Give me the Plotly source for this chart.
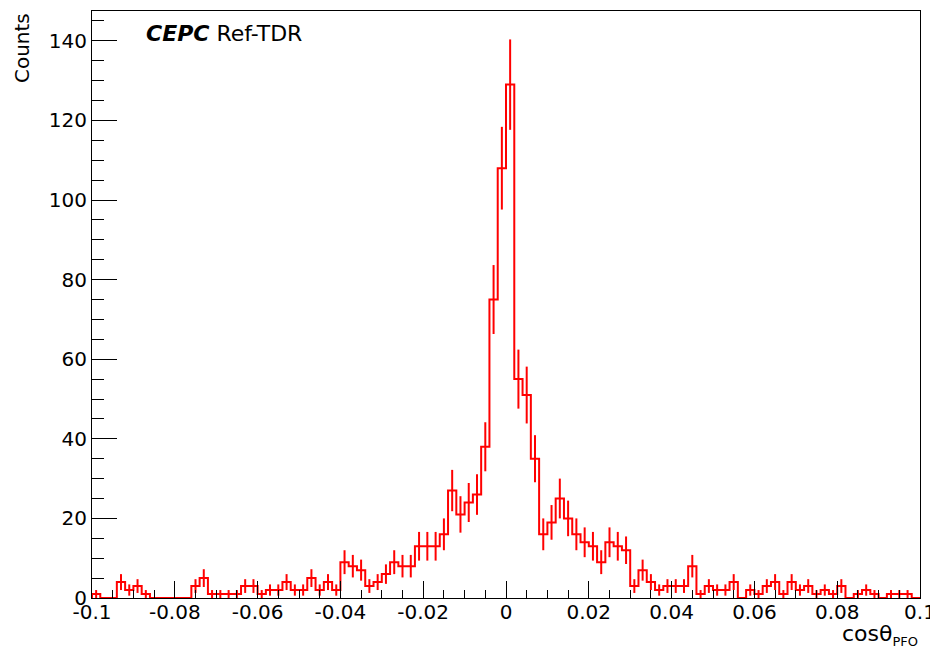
import numpy as np
import plotly.graph_objects as go

# Histogram: 100 bins of cos(theta_PFO) from -0.1 to 0.1
x_min = -0.1
x_max = 0.1
n_bins = 100
counts = [1, 0, 0, 4, 2, 3, 1, 0, 0, 0,
          0, 0, 3, 5, 1, 1, 1, 1, 3, 3,
          1, 2, 2, 4, 2, 2, 5, 2, 4, 2,
          9, 8, 7, 3, 4, 6, 9, 8, 8, 13,
          13, 13, 16, 27, 21, 24, 26, 38, 75, 108,
          129, 55, 51, 35, 16, 19, 25, 20, 16, 14,
          13, 9, 14, 13, 12, 3, 7, 4, 2, 3,
          3, 3, 8, 1, 3, 2, 2, 4, 0, 2,
          1, 3, 4, 1, 4, 2, 3, 1, 2, 1,
          3, 0, 1, 2, 1, 0, 1, 1, 1, 0]
x_tick_vals = [-0.1, -0.08, -0.06, -0.04, -0.02, 0, 0.02, 0.04, 0.06, 0.08, 0.1]
x_tick_text = ["-0.1", "-0.08", "-0.06", "-0.04", "-0.02", "0", "0.02", "0.04", "0.06", "0.08", "0.1"]
y_tick_vals = [0, 20, 40, 60, 80, 100, 120, 140]

edges = np.linspace(x_min, x_max, n_bins + 1)
centers = 0.5 * (edges[:-1] + edges[1:])
c = np.array(counts, dtype=float)
err = np.sqrt(c)

step_x = np.concatenate([[edges[0]], edges, [edges[-1]]])
step_y = np.concatenate([[0], c, [c[-1]], [0]])

FONT = "DejaVu Sans, Liberation Sans, Arial, sans-serif"
RED = "#ff0000"

fig = go.Figure()
fig.add_trace(go.Scatter(x=step_x, y=step_y, mode="lines", line=dict(color=RED, width=2, shape="hv"),
                         hoverinfo="skip", showlegend=False))
mask = c > 0
fig.add_trace(go.Scatter(x=centers[mask], y=c[mask], mode="markers", marker=dict(size=1, color=RED),
                         error_y=dict(type="data", array=err[mask], symmetric=True, color=RED,
                                      thickness=2, width=0),
                         showlegend=False))

# page body has an 8px margin; margins compensate for it
fig.update_layout(
    width=938, height=653,
    margin=dict(l=84, r=26, t=3, b=63, autoexpand=False),
    paper_bgcolor="white", plot_bgcolor="white",
    font=dict(family=FONT, size=20, color="black"),
    showlegend=False,
)
fig.update_xaxes(range=[x_min, x_max], tickvals=x_tick_vals, ticktext=x_tick_text,
                 ticks="inside", ticklen=17, tickwidth=1, tickcolor="black",
                 minor=dict(ticks="inside", ticklen=8, dtick=0.005, tick0=0, tickcolor="black", tickwidth=1, showgrid=False),
                 showline=True, linecolor="black", linewidth=1, mirror=True,
                 showgrid=False, zeroline=False, tickfont=dict(size=20), automargin=False,
                 ticklabelstandoff=-4)
fig.update_yaxes(range=[0, 147.5], tickvals=y_tick_vals,
                 ticks="inside", ticklen=25, tickwidth=1, tickcolor="black",
                 minor=dict(ticks="inside", ticklen=12, dtick=5, tick0=0, tickcolor="black", tickwidth=1, showgrid=False),
                 showline=True, linecolor="black", linewidth=1, mirror=True,
                 showgrid=False, zeroline=False, tickfont=dict(size=20), automargin=False)

fig.add_annotation(text="Counts", xref="paper", yref="paper", x=-0.0845, y=1.0,
                   xanchor="center", yanchor="top", textangle=-90, showarrow=False,
                   font=dict(size=20, family=FONT))
fig.add_annotation(text="cosθ<sub><span style=\"font-size:13px\">PFO</span></sub>", xref="paper", yref="paper",
                   x=1.0, y=-0.0903, xanchor="right", yanchor="bottom", showarrow=False,
                   font=dict(size=22, family=FONT))
fig.add_annotation(text="<b><i>CEPC</i></b> Ref-TDR", xref="paper", yref="paper", x=0.0628, y=0.9625,
                   xanchor="left", yanchor="middle", showarrow=False,
                   font=dict(size=22, family=FONT))

fig.write_html("out.html")
